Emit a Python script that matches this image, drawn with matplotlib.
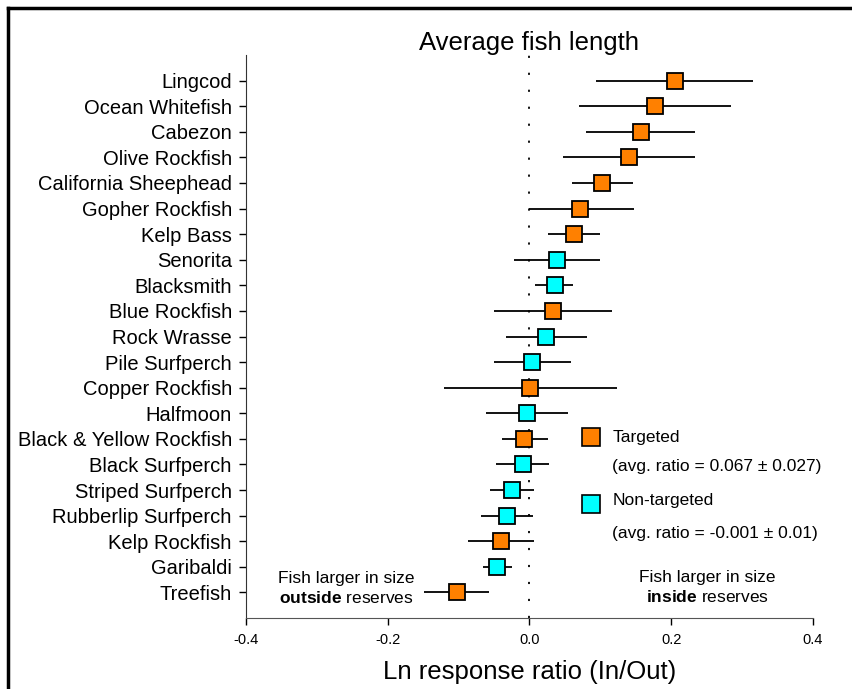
import numpy as np
import matplotlib.pyplot as plt
from matplotlib.lines import Line2D

plt.rcParams['font.family'] = ['Liberation Sans', 'DejaVu Sans']
plt.rcParams['mathtext.fontset'] = 'custom'
plt.rcParams['mathtext.rm'] = 'Liberation Sans'
plt.rcParams['mathtext.bf'] = 'Liberation Sans:bold'

# Data
species = ["Lingcod", "Ocean Whitefish", "Cabezon", "Olive Rockfish",
           "California Sheephead", "Gopher Rockfish", "Kelp Bass", "Senorita",
           "Blacksmith", "Blue Rockfish", "Rock Wrasse", "Pile Surfperch",
           "Copper Rockfish", "Halfmoon", "Black & Yellow Rockfish",
           "Black Surfperch", "Striped Surfperch", "Rubberlip Surfperch",
           "Kelp Rockfish", "Garibaldi", "Treefish"]
ratio = [0.205, 0.177, 0.157, 0.141, 0.103, 0.072, 0.063, 0.039,
         0.036, 0.033, 0.024, 0.004, 0.001, -0.003, -0.007,
         -0.009, -0.024, -0.032, -0.040, -0.046, -0.102]
ci_low = [0.094, 0.070, 0.080, 0.048, 0.060, -0.001, 0.026, -0.021,
          0.008, -0.050, -0.033, -0.050, -0.121, -0.061, -0.039,
          -0.047, -0.055, -0.068, -0.086, -0.066, -0.148]
ci_high = [0.316, 0.284, 0.234, 0.233, 0.146, 0.147, 0.100, 0.100,
           0.062, 0.116, 0.081, 0.059, 0.123, 0.055, 0.026,
           0.028, 0.007, 0.005, 0.006, -0.025, -0.057]
targeted = [True, True, True, True, True, True, True, False,
            False, True, False, False, True, False, True,
            False, False, False, True, False, True]

orange = '#FF8000'
cyan = '#00FFFF'

fig = plt.figure(figsize=(8.52, 6.89), dpi=100)
ax = fig.add_axes([0.2884, 0.103, 0.6658, 0.8172])

y = np.arange(len(species))
ax.axvline(0, color='black', lw=1.3, ls=(0, (1.2, 8.2)), zorder=1)
ax.hlines(y, ci_low, ci_high, color='black', lw=1.3, zorder=2)
for yi, r, t in zip(y, ratio, targeted):
    ax.plot(r, yi, 's', ms=11.5, mfc=orange if t else cyan, mec='black',
            mew=1.3, zorder=3)

ax.set_xlim(-0.4, 0.4)
ax.set_ylim(len(species), -1)
ax.set_yticks(y)
ax.set_yticklabels(species, fontsize=14.5)
ax.set_xticks([-0.4, -0.2, 0.0, 0.2, 0.4])
ax.set_xticklabels(['-0.4', '-0.2', '0.0', '0.2', '0.4'], fontsize=10.5)
ax.tick_params(axis='both', direction='out', length=5, width=1, color='black')
ax.tick_params(axis='y', pad=5)
ax.tick_params(axis='x', pad=6)
ax.spines['top'].set_visible(False)
ax.spines['right'].set_visible(False)
ax.spines['left'].set_color('#333333')
ax.spines['bottom'].set_color('#555555')

ax.set_xlabel('Ln response ratio (In/Out)', fontsize=18.5, labelpad=9)
ax.set_title('Average fish length', fontsize=18.5, pad=3)

# legend
ax.plot(0.609, 0.321, 's', ms=13.5, mfc=orange, mec='black', mew=1.2,
        transform=ax.transAxes, clip_on=False)
ax.text(0.646, 0.321, 'Targeted', transform=ax.transAxes, fontsize=12.5, va='center')
ax.text(0.646, 0.270, '(avg. ratio = 0.067 \u00b1 0.027)', transform=ax.transAxes,
        fontsize=12.5, va='center')
ax.plot(0.609, 0.203, 's', ms=13.5, mfc=cyan, mec='black', mew=1.2,
        transform=ax.transAxes, clip_on=False)
ax.text(0.646, 0.208, 'Non-targeted', transform=ax.transAxes, fontsize=12.5, va='center')
ax.text(0.646, 0.151, '(avg. ratio = -0.001 \u00b1 0.01)', transform=ax.transAxes,
        fontsize=12.5, va='center')

ax.text(-0.258, 19.85, 'Fish larger in size\n$\\bf{outside}$ reserves', ha='center',
        va='center', fontsize=12.5, linespacing=1.3)
ax.text(0.251, 19.8, 'Fish larger in size\n$\\bf{inside}$ reserves', ha='center',
        va='center', fontsize=12.5, linespacing=1.3)

# outer frame (left and top only)
fig.add_artist(Line2D([0.0094, 0.0094], [0, 0.988], color='black', lw=2.5,
                      transform=fig.transFigure))
fig.add_artist(Line2D([0.0094, 1.0], [0.988, 0.988], color='black', lw=2.5,
                      transform=fig.transFigure))

fig.savefig('out.png', dpi=100)
